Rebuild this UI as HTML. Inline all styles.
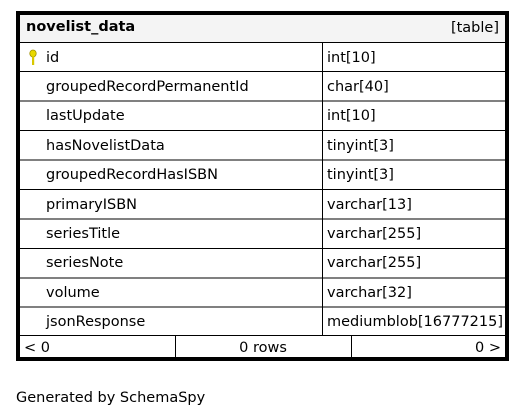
<!DOCTYPE html>
<html><head><meta charset="utf-8"><style>
html,body{margin:0;padding:0;background:#fff;width:524px;height:417px;overflow:hidden}
svg text{font-family:"DejaVu Sans","Liberation Sans",sans-serif;font-size:14.5px;fill:#000}
</style></head><body>
<svg width="524" height="417" xmlns="http://www.w3.org/2000/svg">
<rect x="17.5" y="12.5" width="490" height="347" fill="#fff" stroke="#000" stroke-width="3"/>
<rect x="19.5" y="14.5" width="486" height="28" fill="#f4f4f4" stroke="#000" stroke-width="1"/>
<text x="26" y="31" font-weight="bold">novelist_data</text>
<text x="499" y="32" text-anchor="end">[table]</text>
<g fill="none" stroke="#000" stroke-width="1">
<rect x="19.5" y="42.5" width="303" height="29"/><rect x="322.5" y="42.5" width="183" height="29"/>
<rect x="19.5" y="71.5" width="303" height="29.5"/><rect x="322.5" y="71.5" width="183" height="29.5"/>
<rect x="19.5" y="101" width="303" height="29.5"/><rect x="322.5" y="101" width="183" height="29.5"/>
<rect x="19.5" y="130.5" width="303" height="29.5"/><rect x="322.5" y="130.5" width="183" height="29.5"/>
<rect x="19.5" y="160" width="303" height="29.5"/><rect x="322.5" y="160" width="183" height="29.5"/>
<rect x="19.5" y="189.5" width="303" height="29.5"/><rect x="322.5" y="189.5" width="183" height="29.5"/>
<rect x="19.5" y="219" width="303" height="29.5"/><rect x="322.5" y="219" width="183" height="29.5"/>
<rect x="19.5" y="248.5" width="303" height="29.5"/><rect x="322.5" y="248.5" width="183" height="29.5"/>
<rect x="19.5" y="278" width="303" height="29"/><rect x="322.5" y="278" width="183" height="29"/>
<rect x="19.5" y="307" width="303" height="28.5"/><rect x="322.5" y="307" width="183" height="28.5"/>
<rect x="19.5" y="335.5" width="156" height="22"/><rect x="175.5" y="335.5" width="176" height="22"/><rect x="351.5" y="335.5" width="154" height="22"/>
</g>
<g>
<ellipse cx="33" cy="53.5" rx="3.2" ry="3.5" fill="#e8d800" stroke="#a09000" stroke-width="0.8"/>
<rect x="32" y="56" width="2.2" height="9" fill="#d8c800"/>
</g>
<text x="46" y="62">id</text><text x="327" y="62">int[10]</text>
<text x="46" y="91">groupedRecordPermanentId</text><text x="327" y="91">char[40]</text>
<text x="46" y="120">lastUpdate</text><text x="327" y="120">int[10]</text>
<text x="46" y="150">hasNovelistData</text><text x="327" y="150">tinyint[3]</text>
<text x="46" y="179">groupedRecordHasISBN</text><text x="327" y="179">tinyint[3]</text>
<text x="46" y="209">primaryISBN</text><text x="327" y="209">varchar[13]</text>
<text x="46" y="238">seriesTitle</text><text x="327" y="238">varchar[255]</text>
<text x="46" y="267">seriesNote</text><text x="327" y="267">varchar[255]</text>
<text x="46" y="297">volume</text><text x="327" y="297">varchar[32]</text>
<text x="46" y="326">jsonResponse</text><text x="327" y="326">mediumblob[16777215]</text>
<text x="24" y="352">&lt; 0</text>
<text x="263" y="352" text-anchor="middle">0 rows</text>
<text x="501" y="352" text-anchor="end">0 &gt;</text>
<text x="16" y="402">Generated by SchemaSpy</text>
</svg>
</body></html>
